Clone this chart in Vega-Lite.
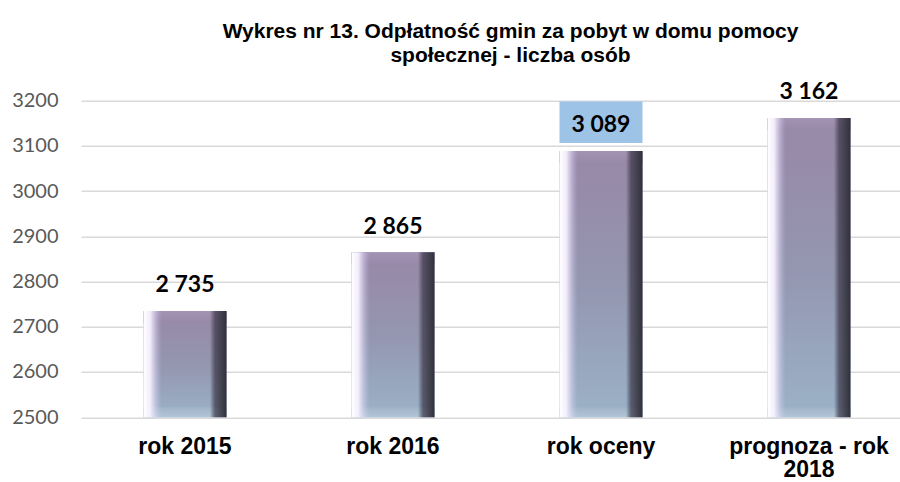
{
  "$schema": "https://vega.github.io/schema/vega-lite/v6.json",
  "autosize": {"type": "none"},
  "padding": {"left": 81, "top": 100.7, "right": 0, "bottom": 65},
  "width": 819,
  "height": 316.5,
  "background": "white",
  "title": {
    "text": ["Wykres nr 13. Odpłatność gmin za pobyt w domu pomocy", "społecznej - liczba osób"],
    "font": "Liberation Sans",
    "fontSize": 21,
    "fontWeight": "bold",
    "color": "#000000",
    "lineHeight": 24,
    "anchor": "middle",
    "frame": "group",
    "dx": 20,
    "offset": 15
  },
  "data": {
    "values": [
      {"cat": "rok 2015", "value": 2735},
      {"cat": "rok 2016", "value": 2865},
      {"cat": "rok oceny", "value": 3089},
      {"cat": "prognoza - rok 2018", "value": 3162}
    ]
  },
  "encoding": {
    "x": {
      "field": "cat",
      "type": "nominal",
      "sort": null,
      "scale": {"range": [0, 832], "paddingInner": 0, "paddingOuter": 0},
      "axis": {
        "title": null,
        "domain": false,
        "ticks": false,
        "tickSize": 0,
        "labelAngle": 0,
        "labelFont": "Liberation Sans",
        "labelFontSize": 23,
        "labelFontWeight": "bold",
        "labelColor": "#000000",
        "labelPadding": 18,
        "labelLineHeight": 23.5,
        "labelLimit": 300,
        "labelExpr": "datum.label == 'prognoza - rok 2018' ? ['prognoza - rok', '2018'] : datum.label"
      }
    },
    "y": {
      "field": "value",
      "type": "quantitative",
      "scale": {"domain": [2500, 3200], "zero": false, "nice": false},
      "axis": {
        "title": null,
        "domain": false,
        "ticks": false,
        "tickSize": 0,
        "values": [2500, 2600, 2700, 2800, 2900, 3000, 3100, 3200],
        "format": "d",
        "labelFont": "Lato",
        "labelFontSize": 20,
        "labelColor": "#595959",
        "labelPadding": 23,
        "gridColor": "#d9d9d9",
        "gridWidth": 1.6
      }
    }
  },
  "layer": [
    {
      "mark": {
        "type": "bar",
        "size": 83,
        "fill": {
          "gradient": "linear",
          "x1": 0, "y1": 0, "x2": 0, "y2": 1,
          "stops": [
            {"offset": 0, "color": "#9888a8"},
            {"offset": 0.5, "color": "#9496b0"},
            {"offset": 1, "color": "#9bb2c7"}
          ]
        }
      },
      "encoding": {"y2": {"datum": 2500}}
    },
    {
      "mark": {
        "type": "tick",
        "size": 83,
        "thickness": 12,
        "yOffset": 6,
        "opacity": 1,
        "fill": {
          "gradient": "linear",
          "x1": 0, "y1": 0, "x2": 0, "y2": 1,
          "stops": [
            {"offset": 0, "color": "#a394b4"},
            {"offset": 1, "color": "#9888a9"}
          ]
        }
      }
    },
    {
      "mark": {
        "type": "tick",
        "size": 83,
        "thickness": 10,
        "yOffset": -5,
        "opacity": 1,
        "fill": {
          "gradient": "linear",
          "x1": 0, "y1": 0, "x2": 0, "y2": 1,
          "stops": [
            {"offset": 0, "color": "#9fb4c8"},
            {"offset": 1, "color": "#b3c5d7"}
          ]
        }
      },
      "encoding": {"y": {"datum": 2500}}
    },
    {
      "mark": {
        "type": "bar",
        "size": 83,
        "fill": {
          "gradient": "linear",
          "x1": 0, "y1": 0, "x2": 1, "y2": 0,
          "stops": [
            {"offset": 0, "color": "rgba(255,255,255,1)"},
            {"offset": 0.08, "color": "rgba(248,242,255,0.95)"},
            {"offset": 0.16, "color": "rgba(230,222,250,0.35)"},
            {"offset": 0.22, "color": "rgba(200,200,230,0)"},
            {"offset": 0.8, "color": "rgba(60,56,72,0)"},
            {"offset": 0.86, "color": "rgba(60,56,72,0.7)"},
            {"offset": 1, "color": "rgba(48,48,58,1)"}
          ]
        }
      },
      "encoding": {"y2": {"datum": 2500}}
    },
    {
      "transform": [{"filter": "datum.cat == 'rok oceny'"}],
      "mark": {
        "type": "point",
        "shape": "M-1,-0.5H1V0.5H-1Z",
        "size": 6889,
        "filled": true,
        "color": "#9dc3e6",
        "opacity": 1,
        "strokeWidth": 0,
        "yOffset": -28.7
      }
    },
    {
      "mark": {
        "type": "text",
        "font": "Lato",
        "fontSize": 23,
        "fontWeight": "bold",
        "color": "#000000",
        "baseline": "alphabetic",
        "dy": -18.5
      },
      "encoding": {
        "text": {"field": "value", "type": "quantitative", "format": ",d"}
      }
    }
  ],
  "config": {
    "view": {"stroke": null},
    "locale": {
      "number": {"decimal": ",", "thousands": " ", "grouping": [3], "currency": ["", " zł"]}
    }
  }
}
